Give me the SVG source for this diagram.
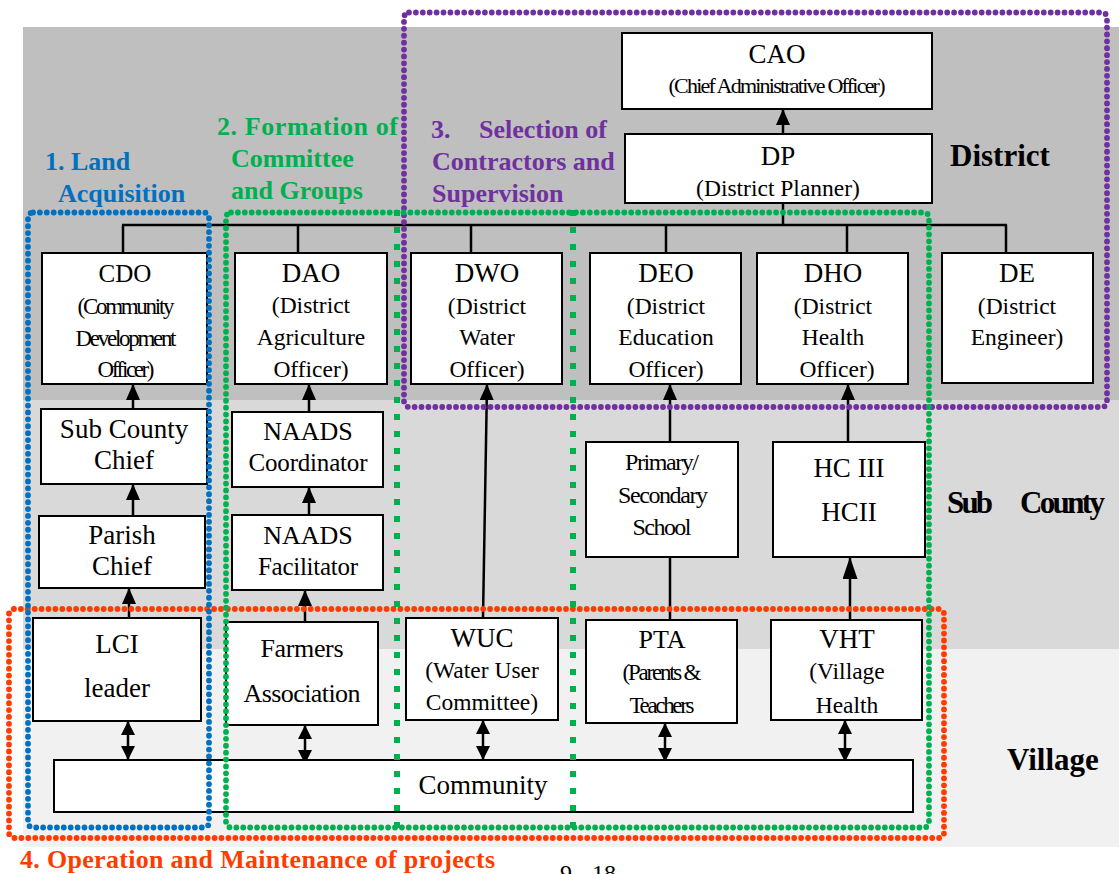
<svg xmlns="http://www.w3.org/2000/svg" width="1119" height="874" viewBox="0 0 1119 874">
<style>
  .box{fill:#fff;stroke:#000;stroke-width:2}
  .t{font-family:"Liberation Serif",Tinos,"Times New Roman",serif;fill:#000;text-anchor:middle}
  .h{font-size:27px}
  .s{font-size:23.5px}
  .lbl{font-family:"Liberation Serif",Tinos,"Times New Roman",serif;font-weight:bold;font-size:26px}
  .lvl{font-family:"Liberation Serif",Tinos,"Times New Roman",serif;font-weight:bold;font-size:31px;fill:#000}
  .pg{font-family:"Liberation Serif",Tinos,"Times New Roman",serif;font-size:24px;fill:#000}
  .conn{stroke:#000;stroke-width:2.5;fill:none}
  .arr{marker-end:url(#ah)}
  .arr-long{marker-end:url(#ahl)}
  .dbl{marker-start:url(#ah2);marker-end:url(#ah2)}
  .dot{fill:none;stroke-width:5.8;stroke-linecap:round;stroke-dasharray:0 6.9}
  .sq{fill:none;stroke:#00b050;stroke-width:6;stroke-dasharray:6 11}
</style>
<defs>
  <marker id="ah" viewBox="0 0 16 14" refX="16" refY="7" markerWidth="16" markerHeight="14" markerUnits="userSpaceOnUse" orient="auto-start-reverse">
    <path d="M0,0 L16,7 L0,14 z" fill="#000"/>
  </marker>
  <marker id="ahl" viewBox="0 0 22 15" refX="22" refY="7.5" markerWidth="22" markerHeight="15" markerUnits="userSpaceOnUse" orient="auto">
    <path d="M0,0 L22,7.5 L0,15 z" fill="#000"/>
  </marker>
  <marker id="ah2" viewBox="0 0 14 14" refX="14" refY="7" markerWidth="14" markerHeight="14" markerUnits="userSpaceOnUse" orient="auto-start-reverse">
    <path d="M0,0 L14,7 L0,14 z" fill="#000"/>
  </marker>
</defs>

<!-- level bands -->
<g id="bands">
  <rect x="23" y="27" width="1096" height="373" fill="#bfbfbf"/>
  <rect x="23" y="400" width="1096" height="249" fill="#d9d9d9"/>
  <rect x="23" y="649" width="1096" height="198" fill="#f1f1f1"/>
</g>

<!-- connectors -->
<g id="connectors">
  <line class="conn arr" x1="783" y1="134" x2="783" y2="109"/>
  <line class="conn" x1="783" y1="203" x2="783" y2="225"/>
  <line class="conn" x1="122" y1="225" x2="1007" y2="225"/>
  <line class="conn" x1="123" y1="225" x2="123" y2="253"/>
  <line class="conn" x1="298" y1="225" x2="298" y2="253"/>
  <line class="conn" x1="471" y1="225" x2="471" y2="253"/>
  <line class="conn" x1="666" y1="225" x2="666" y2="253"/>
  <line class="conn" x1="847" y1="225" x2="847" y2="253"/>
  <line class="conn" x1="1006" y1="225" x2="1006" y2="253"/>

  <line class="conn arr" x1="133" y1="409" x2="133" y2="384"/>
  <line class="conn arr" x1="133" y1="516" x2="133" y2="484"/>
  <line class="conn arr" x1="129" y1="618" x2="129" y2="588"/>

  <line class="conn arr" x1="309" y1="412" x2="309" y2="384"/>
  <line class="conn arr" x1="309" y1="515" x2="309" y2="487"/>
  <line class="conn arr" x1="305" y1="622" x2="305" y2="590"/>

  <line class="conn arr" x1="483" y1="618" x2="487" y2="384"/>

  <line class="conn arr" x1="670" y1="442" x2="670" y2="384"/>
  <line class="conn" x1="670" y1="620" x2="670" y2="557"/>

  <line class="conn arr" x1="848" y1="442" x2="848" y2="384"/>
  <line class="conn arr-long" x1="850" y1="620" x2="850" y2="557"/>

  <line class="conn dbl" x1="128" y1="721" x2="128" y2="760"/>
  <line class="conn dbl" x1="305" y1="725" x2="305" y2="764"/>
  <line class="conn dbl" x1="483" y1="720" x2="483" y2="760"/>
  <line class="conn dbl" x1="665" y1="723" x2="665" y2="762"/>
  <line class="conn dbl" x1="845" y1="720" x2="845" y2="762"/>
</g>

<!-- district level -->
<g id="cao">
  <rect class="box" x="622" y="33" width="310" height="76"/>
  <text class="t h" x="777" y="63">CAO</text>
  <text class="t" x="777" y="93" font-size="22" textLength="217" lengthAdjust="spacing">(Chief Administrative Officer)</text>
</g>
<g id="dp">
  <rect class="box" x="625" y="134" width="307" height="69"/>
  <text class="t h" x="778" y="165">DP</text>
  <text class="t s" x="778" y="196">(District Planner)</text>
</g>
<g id="cdo">
  <rect class="box" x="42" y="253" width="165" height="131"/>
  <text class="t" x="125" y="282" font-size="25">CDO</text>
  <text class="t" x="126" y="314" font-size="23" textLength="97" lengthAdjust="spacing">(Community</text>
  <text class="t" x="126" y="346" font-size="23" textLength="101" lengthAdjust="spacing">Development</text>
  <text class="t" x="126" y="377" font-size="23" textLength="57" lengthAdjust="spacing">Officer)</text>
</g>
<g id="dao">
  <rect class="box" x="235" y="253" width="152" height="131"/>
  <text class="t h" x="311" y="282">DAO</text>
  <text class="t s" x="311" y="313">(District</text>
  <text class="t s" x="311" y="345">Agriculture</text>
  <text class="t s" x="311" y="377">Officer)</text>
</g>
<g id="dwo">
  <rect class="box" x="411" y="253" width="151" height="131"/>
  <text class="t h" x="487" y="282">DWO</text>
  <text class="t s" x="487" y="314">(District</text>
  <text class="t s" x="487" y="345">Water</text>
  <text class="t s" x="487" y="377">Officer)</text>
</g>
<g id="deo">
  <rect class="box" x="590" y="253" width="151" height="131"/>
  <text class="t h" x="666" y="282">DEO</text>
  <text class="t s" x="666" y="314">(District</text>
  <text class="t s" x="666" y="345">Education</text>
  <text class="t s" x="666" y="377">Officer)</text>
</g>
<g id="dho">
  <rect class="box" x="757" y="253" width="151" height="131"/>
  <text class="t h" x="833" y="282">DHO</text>
  <text class="t s" x="833" y="314">(District</text>
  <text class="t s" x="833" y="345">Health</text>
  <text class="t s" x="837" y="377">Officer)</text>
</g>
<g id="de">
  <rect class="box" x="942" y="253" width="151" height="130"/>
  <text class="t h" x="1017" y="282">DE</text>
  <text class="t s" x="1017" y="314">(District</text>
  <text class="t s" x="1017" y="345">Engineer)</text>
</g>

<!-- sub county level -->
<g id="subcounty-chief">
  <rect class="box" x="41" y="409" width="166" height="75"/>
  <text class="t h" x="124" y="438">Sub County</text>
  <text class="t h" x="124" y="469">Chief</text>
</g>
<g id="parish-chief">
  <rect class="box" x="39" y="516" width="166" height="72"/>
  <text class="t h" x="122" y="544">Parish</text>
  <text class="t h" x="122" y="575">Chief</text>
</g>
<g id="naads-coordinator">
  <rect class="box" x="232" y="412" width="151" height="75"/>
  <text class="t" x="308" y="440" font-size="26">NAADS</text>
  <text class="t" x="308" y="471" font-size="25" textLength="119" lengthAdjust="spacing">Coordinator</text>
</g>
<g id="naads-facilitator">
  <rect class="box" x="232" y="515" width="151" height="75"/>
  <text class="t" x="308" y="544" font-size="26">NAADS</text>
  <text class="t" x="308" y="575" font-size="25" textLength="100" lengthAdjust="spacing">Facilitator</text>
</g>
<g id="school">
  <rect class="box" x="586" y="442" width="152" height="115"/>
  <text class="t" x="662" y="470" font-size="24" textLength="74" lengthAdjust="spacing">Primary/</text>
  <text class="t" x="663" y="503" font-size="24" textLength="90" lengthAdjust="spacing">Secondary</text>
  <text class="t" x="662" y="535" font-size="24" textLength="59" lengthAdjust="spacing">School</text>
</g>
<g id="health-centre">
  <rect class="box" x="773" y="442" width="152" height="115"/>
  <text class="t h" x="849" y="477">HC III</text>
  <text class="t h" x="849" y="521">HCII</text>
</g>

<!-- village level -->
<g id="lci">
  <rect class="box" x="33" y="618" width="168" height="103"/>
  <text class="t h" x="117" y="653">LCI</text>
  <text class="t h" x="117" y="697">leader</text>
</g>
<g id="farmers">
  <rect class="box" x="226" y="622" width="152" height="103"/>
  <text class="t" x="302" y="657" font-size="26" textLength="83" lengthAdjust="spacing">Farmers</text>
  <text class="t" x="302" y="702" font-size="26" textLength="117" lengthAdjust="spacing">Association</text>
</g>
<g id="wuc">
  <rect class="box" x="406" y="618" width="152" height="102"/>
  <text class="t h" x="482" y="647">WUC</text>
  <text class="t s" x="482" y="678">(Water User</text>
  <text class="t s" x="482" y="710">Committee)</text>
</g>
<g id="pta">
  <rect class="box" x="586" y="620" width="151" height="103"/>
  <text class="t" x="662" y="648" font-size="26">PTA</text>
  <text class="t" x="662" y="680" font-size="23" textLength="79" lengthAdjust="spacing">(Parents &amp;</text>
  <text class="t" x="662" y="713" font-size="23" textLength="65" lengthAdjust="spacing">Teachers</text>
</g>
<g id="vht">
  <rect class="box" x="771" y="620" width="151" height="100"/>
  <text class="t h" x="847" y="648">VHT</text>
  <text class="t s" x="847" y="679">(Village</text>
  <text class="t s" x="847" y="713">Health</text>
</g>
<g id="community">
  <rect class="box" x="54" y="760" width="859" height="52"/>
  <text class="t h" x="483" y="794">Community</text>
</g>

<!-- process groupings -->
<g id="groupings">
  <rect class="dot" x="404" y="12.5" width="703" height="394.5" rx="5" stroke="#7030a0"/>
  <rect class="dot" x="9" y="609" width="935" height="229" rx="5" stroke="#ff3c00"/>
  <rect class="dot" x="28" y="212.5" width="181" height="615" rx="5" stroke="#0070c0"/>
  <rect class="dot" x="226" y="212.5" width="703" height="615" rx="5" stroke="#00b050"/>
  <line class="sq" x1="397" y1="210" x2="397" y2="830"/>
  <line class="sq" x1="573" y1="210" x2="573" y2="830"/>
</g>

<!-- labels -->
<g id="labels">
  <text class="lbl" fill="#0070c0"><tspan x="45" y="170">1. Land</tspan><tspan x="58" y="202">Acquisition</tspan></text>
  <text class="lbl" fill="#00b050"><tspan x="217" y="135" textLength="181" lengthAdjust="spacing">2. Formation of</tspan><tspan x="231" y="167">Committee</tspan><tspan x="231" y="199">and Groups</tspan></text>
  <text class="lbl" fill="#7030a0"><tspan x="431" y="138">3.</tspan><tspan x="479" y="138">Selection of</tspan><tspan x="432" y="170">Contractors and</tspan><tspan x="432" y="202">Supervision</tspan></text>
  <text class="lbl" fill="#ff3c00" x="20" y="868" font-size="27" textLength="475" lengthAdjust="spacing">4. Operation and Maintenance of projects</text>
  <text class="lvl" x="950" y="166">District</text>
  <text class="lvl" font-size="28"><tspan x="947" y="513" textLength="46" lengthAdjust="spacing">Sub</tspan><tspan x="1020" y="513" textLength="85" lengthAdjust="spacing">County</tspan></text>
  <text class="lvl" x="1007" y="770">Village</text>
  <text class="pg" x="560" y="881">9 - 18</text>
</g>
</svg>
